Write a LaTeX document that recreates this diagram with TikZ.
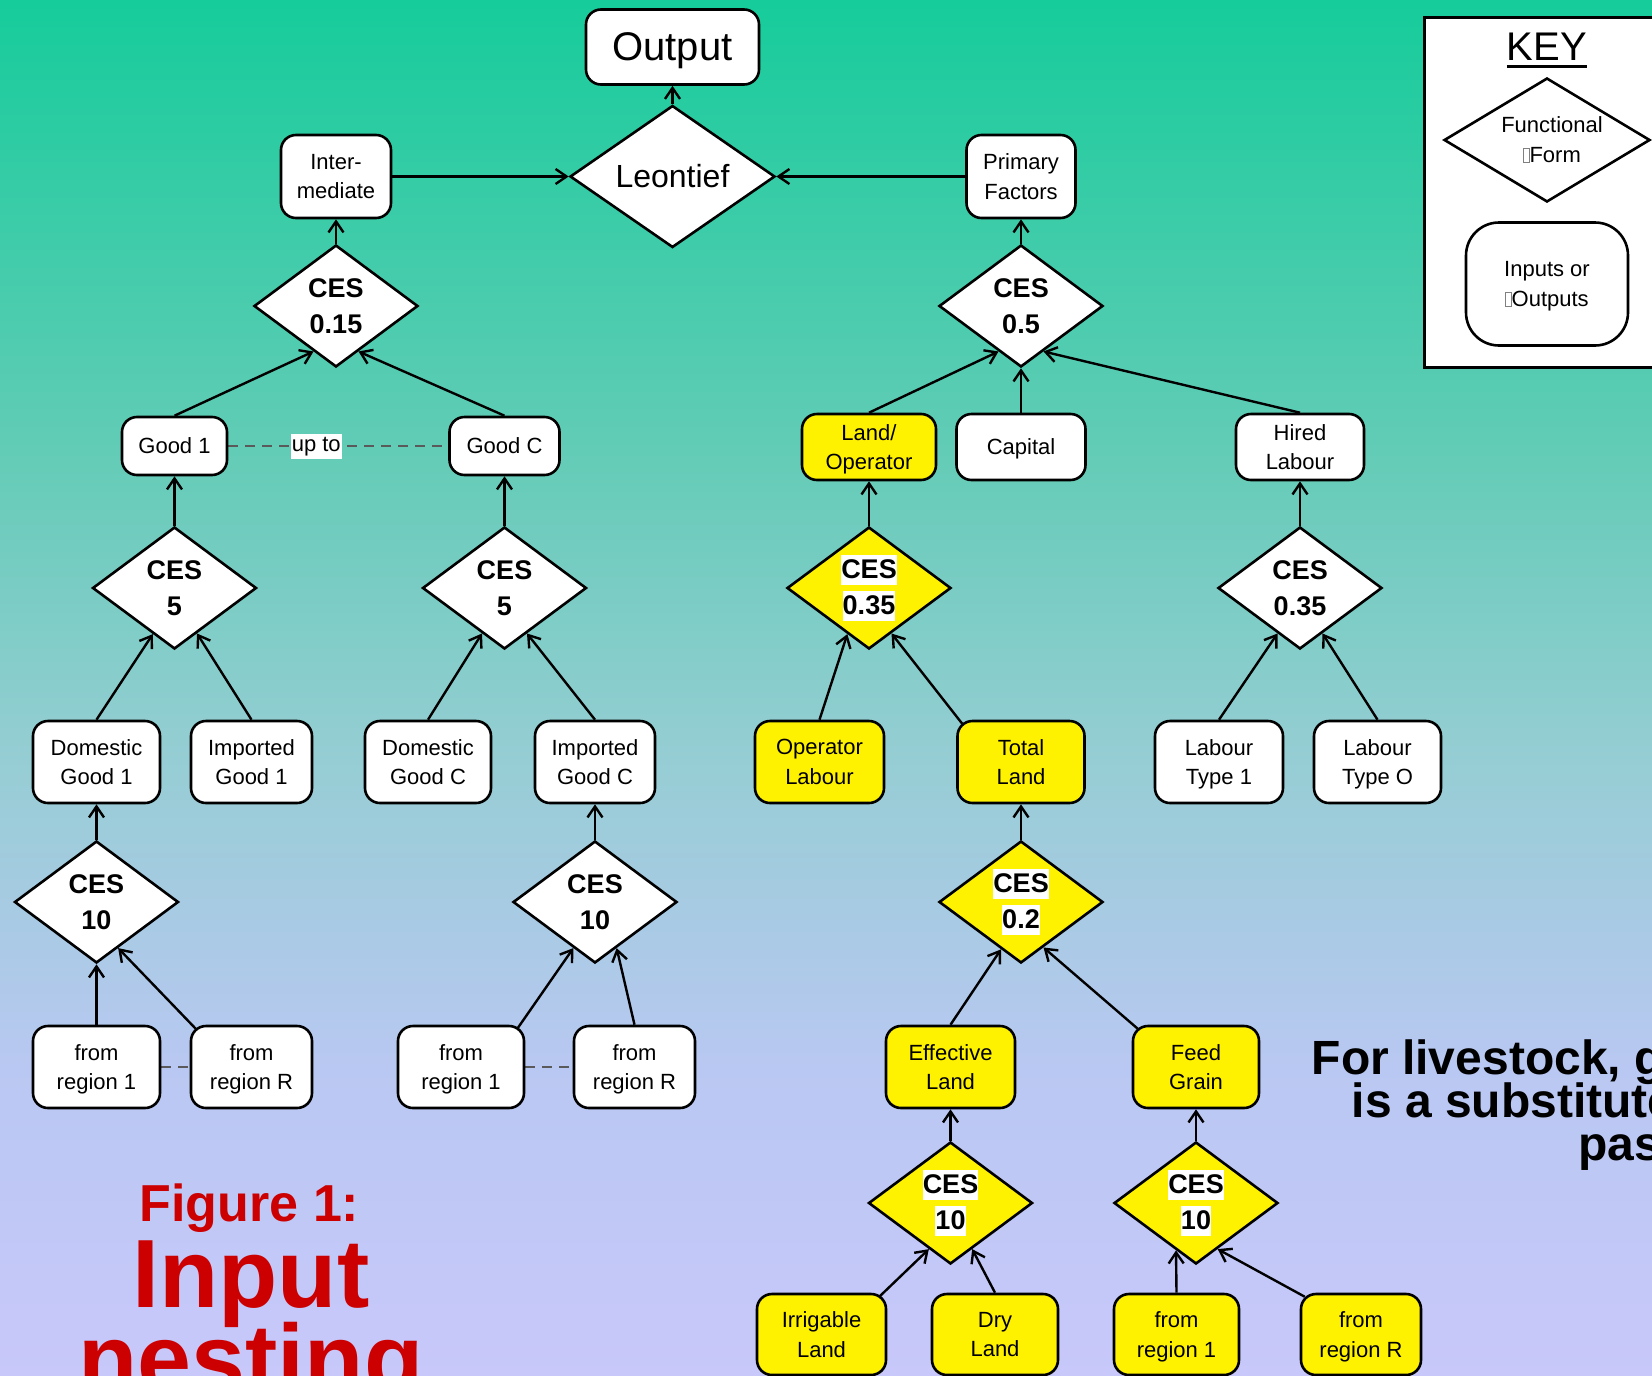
\documentclass[tikz,border=0pt]{standalone}
\usepackage{fontspec}
\setmainfont{Liberation Sans}
\usetikzlibrary{shapes.geometric,arrows.meta,calc}

\pgfdeclarelayer{bglayer}
\pgfdeclarelayer{edges}
\pgfsetlayers{bglayer,edges,main}

% background gradient stops (top to bottom)
\definecolor{bgA}{RGB}{22,204,155}
\definecolor{bgB}{RGB}{98,204,182}
\definecolor{bgC}{RGB}{150,205,212}
\definecolor{bgD}{RGB}{185,200,242}
\definecolor{bgE}{RGB}{200,200,250}
\definecolor{figred}{RGB}{204,0,0}
\definecolor{dashgray}{RGB}{90,90,90}

% white highlight behind the CES labels of the yellow diamonds
\newcommand\hlt[1]{{\setlength\fboxsep{0pt}\colorbox{white}{\rule[-6.5pt]{0pt}{30.5pt}#1}}}
% missing-glyph box in the key texts
\newcommand\tofu{{\color{gray}\setlength\fboxrule{0.7pt}\setlength\fboxsep{0pt}\fbox{\rule{0pt}{14pt}\hspace{5pt}}}}
% thick underline for the key title
\newcommand\thickul[1]{{\setbox0\hbox{#1}\rlap{\rule[-7.5pt]{\wd0}{3pt}}\box0}}

\tikzset{
  x=1pt, y=-1pt,
  basenode/.style={draw=black, line width=2.6pt, fill=white, inner sep=0pt,
    align=center, text=black, font=\fontsize{22}{29.5}\selectfont},
  box/.style={basenode, rectangle, rounded corners=15pt, minimum height=82pt,
    text depth=0pt},
  ybox/.style={box, fill=yellow},
  ces/.style={basenode, diamond, shape aspect=1.34, minimum width=164pt,
    minimum height=122pt, font=\bfseries\fontsize{27}{36}\selectfont},
  yces/.style={ces, fill=yellow},
  arr/.style={line width=2.4pt, -{Straight Barb[length=11pt,width=15pt]}},
  link/.style={draw=dashgray, line width=1.6pt, dash pattern=on 10pt off 7pt},
  bigtext/.style={inner sep=0pt, anchor=base, text=figred},
  notetext/.style={inner sep=0pt, anchor=base east, text=black,
    font=\bfseries\fontsize{48}{43}\selectfont},
}

\begin{document}
\begin{tikzpicture}
\useasboundingbox (0,0) rectangle (1652,1376);

\begin{pgfonlayer}{bglayer}
  \shade[top color=bgA, bottom color=bgB] (0,0) rectangle (1652,447);
  \shade[top color=bgB, bottom color=bgC] (0,446) rectangle (1652,761);
  \shade[top color=bgC, bottom color=bgD] (0,760) rectangle (1652,1068);
  \shade[top color=bgD, bottom color=bgE] (0,1067) rectangle (1652,1376);
\end{pgfonlayer}

% top level
\node[box, minimum width=173pt, minimum height=75pt, font=\fontsize{40}{48}\selectfont] (out) at (672.5,47) {Output};
\node[ces, shape aspect=1.44, minimum width=205pt, minimum height=142pt, font=\fontsize{32}{38}\selectfont] (leon) at (672.5,176.5) {Leontief};
\node[box, minimum width=110pt, minimum height=83pt] (inter) at (336,176.5) {Inter-\\mediate};
\node[box, minimum width=109pt, minimum height=83pt] (prim) at (1021,176.5) {Primary\\Factors};

\node[ces] (c015) at (336,306) {CES\\0.15};
\node[ces] (c05) at (1021,306) {CES\\0.5};

% second level
\node[box, minimum width=105pt, minimum height=58pt] (g1) at (174.5,446) {Good 1};
\node[box, minimum width=110pt, minimum height=58pt] (gC) at (504.5,446) {Good C};
\node[ybox, minimum width=134pt, minimum height=66pt] (landop) at (869,447) {Land/\\Operator};
\node[box, minimum width=129pt, minimum height=66pt] (cap) at (1021,447) {Capital};
\node[box, minimum width=128pt, minimum height=66pt] (hired) at (1300,447) {Hired\\Labour};

\node[ces] (c5a) at (174.5,588) {CES\\5};
\node[ces] (c5b) at (504.5,588) {CES\\5};
\node[yces] (c035y) at (869,588) {\hlt{CES}\\\hlt{0.35}};
\node[ces] (c035w) at (1300,588) {CES\\0.35};

% third level
\node[box, minimum width=127pt] (dg1) at (96.5,762) {Domestic\\Good 1};
\node[box, minimum width=121pt] (ig1) at (251.5,762) {Imported\\Good 1};
\node[box, minimum width=126pt] (dgC) at (428,762) {Domestic\\Good C};
\node[box, minimum width=120pt] (igC) at (595,762) {Imported\\Good C};
\node[ybox, minimum width=129pt] (oplab) at (819.5,762) {Operator\\Labour};
\node[ybox, minimum width=127pt] (tland) at (1021,762) {Total\\Land};
\node[box, minimum width=128pt] (lt1) at (1219,762) {Labour\\Type 1};
\node[box, minimum width=127pt] (ltO) at (1377.5,762) {Labour\\Type O};

\node[ces] (c10a) at (96.5,902) {CES\\10};
\node[ces] (c10b) at (595,902) {CES\\10};
\node[yces] (c02) at (1021,902) {\hlt{CES}\\\hlt{0.2}};

% fourth level
\node[box, minimum width=127pt] (fr1a) at (96.5,1067) {from\\region 1};
\node[box, minimum width=121pt] (frRa) at (251.5,1067) {from\\region R};
\node[box, minimum width=126pt] (fr1b) at (461,1067) {from\\region 1};
\node[box, minimum width=121pt] (frRb) at (634.5,1067) {from\\region R};
\node[ybox, minimum width=129pt] (effl) at (950.5,1067) {Effective\\Land};
\node[ybox, minimum width=126pt] (feed) at (1196,1067) {Feed\\Grain};

\node[yces] (c10c) at (950.5,1203) {\hlt{CES}\\\hlt{10}};
\node[yces] (c10d) at (1196,1203) {\hlt{CES}\\\hlt{10}};

% bottom level
\node[ybox, minimum width=129pt, minimum height=81pt] (irr) at (821.5,1334.5) {Irrigable\\Land};
\node[ybox, minimum width=126pt, minimum height=81pt] (dry) at (995,1334.5) {Dry\\Land};
\node[ybox, minimum width=125pt, minimum height=81pt] (fr1c) at (1176.5,1334.5) {from\\region 1};
\node[ybox, minimum width=120pt, minimum height=81pt] (frRc) at (1361,1334.5) {from\\region R};

% key
\node[draw=black, line width=2.6pt, fill=white, rectangle, anchor=north west,
  minimum width=300pt, minimum height=350pt, inner sep=0pt] (keyframe) at (1423,16) {};
\node[inner sep=0pt, anchor=base, font=\fontsize{40}{48}\selectfont] (keytitle) at (1547,60) {\thickul{KEY}};
\node[ces, shape aspect=1.66, minimum width=206pt, minimum height=124pt,
  font=\fontsize{22}{29.5}\selectfont] (keyd) at (1547,140) {\kern10pt Functional\\\kern10pt\tofu Form};
\node[box, minimum width=162pt, minimum height=123pt, rounded corners=33pt] (keyb) at (1547,284) {Inputs or\\\tofu Outputs};

% connectors
\begin{pgfonlayer}{edges}
  \draw[arr] (leon.north) -- (out.south);
  \draw[arr] (inter.east) -- (leon.west);
  \draw[arr] (prim.west) -- (leon.east);
  \draw[arr] (c015.north) -- (inter.south);
  \draw[arr] (c05.north) -- (prim.south);

  \draw[arr] (g1.north) -- ($(c015.south)!0.27!(c015.west)$);
  \draw[arr] (gC.north) -- ($(c015.south)!0.27!(c015.east)$);
  \draw[arr] (landop.north) -- ($(c05.south)!0.27!(c05.west)$);
  \draw[arr] (cap.north) -- (c05.south);
  \draw[arr] (hired.north) -- ($(c05.south)!0.27!(c05.east)$);

  \draw[arr] (c5a.north) -- (g1.south);
  \draw[arr] (c5b.north) -- (gC.south);
  \draw[arr] (c035y.north) -- (landop.south);
  \draw[arr] (c035w.north) -- (hired.south);

  \draw[arr] (dg1.north) -- ($(c5a.south)!0.26!(c5a.west)$);
  \draw[arr] (ig1.north) -- ($(c5a.south)!0.27!(c5a.east)$);
  \draw[arr] (dgC.north) -- ($(c5b.south)!0.27!(c5b.west)$);
  \draw[arr] (igC.north) -- ($(c5b.south)!0.27!(c5b.east)$);
  \draw[arr] (oplab.north) -- ($(c035y.south)!0.26!(c035y.west)$);
  \draw[arr] ($(tland.north west)+(6,4)$) -- ($(c035y.south)!0.27!(c035y.east)$);
  \draw[arr] (lt1.north) -- ($(c035w.south)!0.27!(c035w.west)$);
  \draw[arr] (ltO.north) -- ($(c035w.south)!0.27!(c035w.east)$);

  \draw[arr] (c10a.north) -- (dg1.south);
  \draw[arr] (c10b.north) -- (igC.south);
  \draw[arr] (c02.north) -- (tland.south);

  \draw[arr] (fr1a.north) -- (c10a.south);
  \draw[arr] ($(frRa.north west)+(6,4)$) -- ($(c10a.south)!0.26!(c10a.east)$);
  \draw[arr] ($(fr1b.north east)+(-8,4)$) -- ($(c10b.south)!0.26!(c10b.west)$);
  \draw[arr] (frRb.north) -- ($(c10b.south)!0.26!(c10b.east)$);
  \draw[arr] (effl.north) -- ($(c02.south)!0.24!(c02.west)$);
  \draw[arr] ($(feed.north west)+(6,4)$) -- ($(c02.south)!0.27!(c02.east)$);

  \draw[arr] (c10c.north) -- (effl.south);
  \draw[arr] (c10d.north) -- (feed.south);

  \draw[arr] ($(irr.north east)+(-8,4)$) -- ($(c10c.south)!0.26!(c10c.west)$);
  \draw[arr] (dry.north) -- ($(c10c.south)!0.26!(c10c.east)$);
  \draw[arr] (fr1c.north) -- ($(c10d.south)!0.24!(c10d.west)$);
  \draw[arr] ($(frRc.north west)+(5,4)$) -- ($(c10d.south)!0.26!(c10d.east)$);

  % "up to" ranges
  \draw[link] (g1.east) -- node[pos=0.4, fill=white, text=black, inner sep=1pt,
    text height=17pt, text depth=6pt, font=\fontsize{22}{29.5}\selectfont] (upto) {up to} (gC.west);
  \draw[link] (fr1a.east) -- (frRa.west);
  \draw[link] (fr1b.east) -- (frRb.west);
\end{pgfonlayer}

% title
\node[bigtext, font=\bfseries\fontsize{52}{60}\selectfont] (figno) at (249.5,1221) {Figure 1:};
\node[bigtext, font=\bfseries\fontsize{97}{100}\selectfont] (figtitleA) at (251,1307) {Input};
\node[bigtext, font=\bfseries\fontsize{97}{100}\selectfont] (figtitleB) at (251,1392) {nesting};

% note on substitution
\node[notetext] (noteA) at (1752,1074) {For livestock, grain};
\node[notetext] (noteB) at (1752,1117) {is a substitute for};
\node[notetext] (noteC) at (1752,1160) {pasture};
\end{tikzpicture}
\end{document}
